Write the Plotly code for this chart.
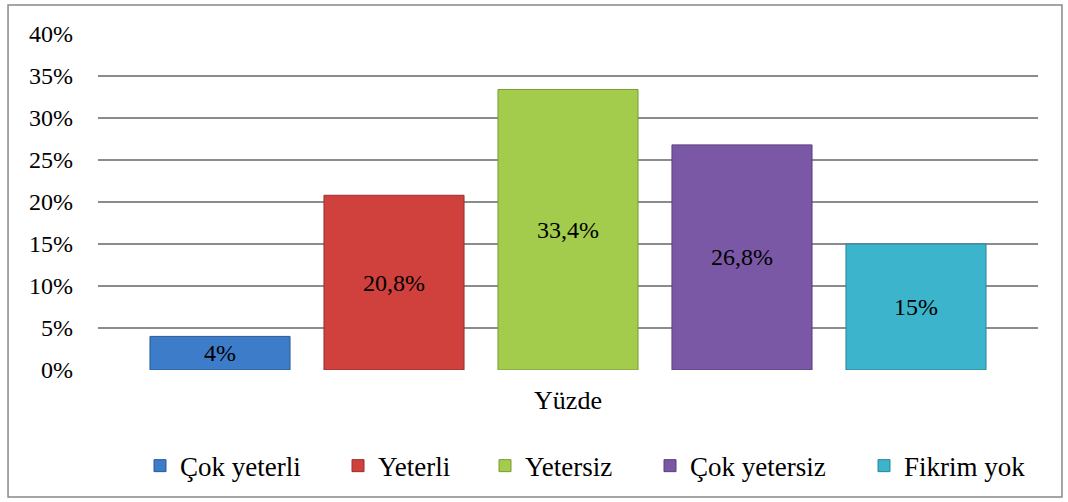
import plotly.graph_objects as go

# veriler
kategori = ['Yüzde']
seriler = ['Çok yeterli', 'Yeterli', 'Yetersiz', 'Çok yetersiz', 'Fikrim yok']
degerler = [4.0, 20.8, 33.4, 26.8, 15.0]
renkler = ['#3D7CC9', '#D0413E', '#A3CC4C', '#7B58A6', '#3CB4CC']
kenar_renkler = ['#2A5A94', '#953030', '#7A9A38', '#5A3F7D', '#2B8599']

YAZI = 'Liberation Serif, Times New Roman, DejaVu Serif, serif'

# lejant sembollerinin orta noktaları (piksel)
lejant_x = [163, 361, 508, 673, 887]


def etiket(v):
    # Türkçe ondalık virgül
    if v == int(v):
        return f'{int(v)}%'
    return f'{v:.1f}'.replace('.', ',') + '%'


fig = go.Figure()
for i, (ad, v, renk, kenar) in enumerate(zip(seriler, degerler, renkler, kenar_renkler)):
    lg = 'legend' if i == 0 else f'legend{i + 1}'
    fig.add_trace(go.Bar(
        name=ad, x=kategori, y=[v / 100], legend=lg,
        text=[etiket(v)], textposition='inside', insidetextanchor='middle',
        textfont=dict(family=YAZI, size=24, color='black'),
        marker=dict(color=renk, line=dict(color=kenar, width=1)),
    ))

lejantlar = {}
for i, px_x in enumerate(lejant_x):
    lg = 'legend' if i == 0 else f'legend{i + 1}'
    lejantlar[lg] = dict(x=(px_x - 23 - 98) / 940, xanchor='left', y=-0.286, yanchor='middle',
                         font=dict(family=YAZI, size=27, color='black'),
                         bgcolor='rgba(0,0,0,0)', itemwidth=30)

fig.update_layout(
    width=1068, height=502,
    barmode='group', bargap=0.0745, bargroupgap=0.195,
    plot_bgcolor='white', paper_bgcolor='white',
    margin=dict(l=98, r=30, t=34, b=132),
    font=dict(family=YAZI, size=24, color='black'),
    uniformtext=dict(mode='show', minsize=24),
    showlegend=True,
    **lejantlar,
)
fig.update_yaxes(range=[0, 0.4], dtick=0.05, tickformat='.0%', showgrid=True,
                 gridcolor='#8C8C8C', gridwidth=1.5, zeroline=False,
                 showline=False, ticklabelstandoff=24, tickfont=dict(size=24))
fig.update_xaxes(showline=False, ticklabelstandoff=12, tickfont=dict(size=26))

# dış çerçeve
fig.add_shape(type='rect', xref='paper', yref='paper',
              x0=-0.0957, x1=1.0255, y0=-0.378, y1=1.086,
              line=dict(color='#888888', width=1.5), fillcolor='rgba(0,0,0,0)')

fig.write_html('out.html', config={'displayModeBar': False},
               post_script="document.body.style.margin='0';")
